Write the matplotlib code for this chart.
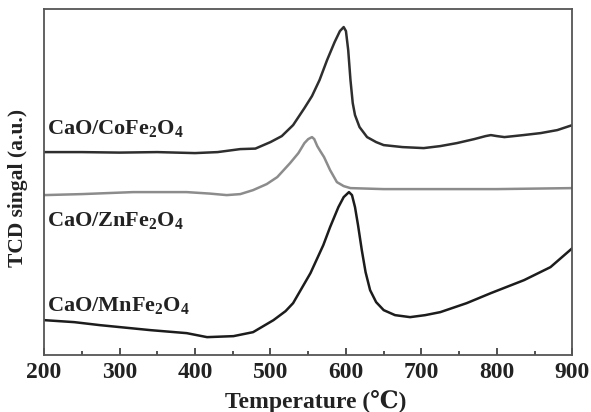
import numpy as np
import matplotlib
matplotlib.use("Agg")
import matplotlib.pyplot as plt
from matplotlib.ticker import MultipleLocator, NullLocator

plt.rcParams['font.family'] = ['Liberation Serif', 'DejaVu Serif']
plt.rcParams['font.weight'] = 'bold'
plt.rcParams['mathtext.fontset'] = 'custom'
plt.rcParams['mathtext.rm'] = 'Liberation Serif:bold'
plt.rcParams['mathtext.bf'] = 'Liberation Serif:bold'
plt.rcParams['mathtext.default'] = 'bf'

# TPR profiles, arbitrary units (offset per sample)
temp_co = [200, 250, 300, 350, 400, 430, 460, 480, 500, 515, 530, 545, 555, 565, 575,
           585, 592, 597, 600, 603, 606, 609, 612, 618, 628, 640, 650, 675, 703, 725,
           747, 770, 785, 792, 800, 810, 835, 858, 880, 900]
sig_co = [203, 203, 202.5, 203, 202, 203, 206, 206.5, 213, 219, 230, 247, 259, 275, 295,
          313, 324, 328, 324, 305, 275, 252, 240, 228, 218, 213, 210, 208, 207, 209,
          212, 216, 219, 220, 219, 218, 220, 222, 225, 230]

temp_zn = [200, 250, 318, 389, 420, 442, 460, 477, 495, 509, 526, 537, 545, 550, 555,
           558, 562, 566, 571, 579, 588, 597, 606, 650, 700, 800, 900]
sig_zn = [160, 161, 163, 163, 161.5, 160, 161, 165, 171, 178, 192, 202, 212, 216, 218,
          216, 209, 204, 198, 185, 173, 169, 167, 166, 166, 166, 167]

temp_mn = [200, 240, 274, 341, 389, 416, 451, 477, 504, 520, 530, 553, 570, 579, 590,
           597, 604, 608, 612, 616, 621, 626, 632, 640, 650, 665, 685, 705, 725, 760,
           792, 836, 871, 900]
sig_mn = [35, 33, 30, 25, 22, 18, 19, 23, 35, 44, 52, 82, 110, 128, 148,
          158, 163, 160, 148, 130, 105, 83, 65, 53, 45, 40, 38, 40, 43, 52,
          62, 75, 88, 107]

labels = [r'$CaO/CoFe_2O_4$', r'$CaO/ZnFe_2O_4$', r'$CaO/MnFe_2O_4$']
label_y = [227, 135, 50]

fig = plt.figure(figsize=(5.91, 4.12), dpi=100)
ax = fig.add_axes([0.0745, 0.138, 0.894, 0.84])

ax.plot(temp_co, sig_co, color='#2e2e2e', lw=1.8)
ax.plot(temp_zn, sig_zn, color='#8c8c8c', lw=1.8)
ax.plot(temp_mn, sig_mn, color='#1c1c1c', lw=1.8)

for txt, y in zip(labels, label_y):
    ax.text(204, y, txt, fontsize=16, color='#222222', va='center', ha='left')

ax.set_xlim(200, 900)
ax.set_ylim(0, 346)
ax.xaxis.set_major_locator(MultipleLocator(100))
ax.xaxis.set_minor_locator(MultipleLocator(50))
ax.yaxis.set_major_locator(NullLocator())
ax.tick_params(axis='x', which='major', direction='in', length=5, width=1.2,
               labelsize=17, pad=5, colors='#333333', labelcolor='#222222')
ax.tick_params(axis='x', which='minor', direction='in', length=3, width=1.2,
               colors='#333333')
for sp in ax.spines.values():
    sp.set_linewidth(1.3)
    sp.set_color('#555555')

ax.set_xlabel('Temperature (℃)', fontsize=17, fontweight='bold', color='#222222')
ax.set_ylabel('TCD singal (a.u.)', fontsize=15.5, fontweight='bold', color='#222222')
ax.xaxis.set_label_coords(0.515, -0.101)
ax.yaxis.set_label_coords(-0.030, 0.483)

fig.savefig('out.png', dpi=100)
